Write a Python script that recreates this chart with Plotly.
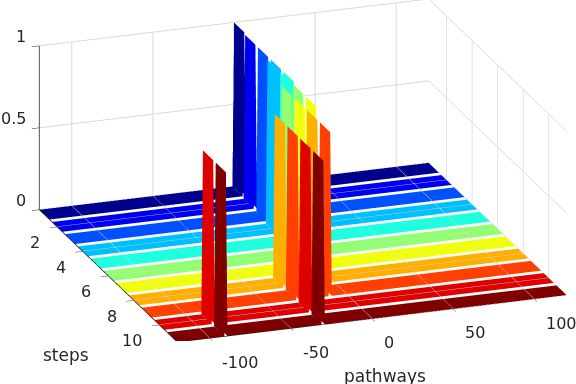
import numpy as np
import plotly.graph_objects as go

# pathway axis samples and the spike positions per step
pathways = list(range(-120, 121))
steps = [1, 2, 3, 4, 5, 6, 7, 8, 9, 10, 11]
spike_pathways = [
    [0],
    [-1],
    [-1],
    [-3, -1],
    [-3, -1],
    [-10, -3],
    [-10, -3],
    [-30, -10],
    [-30, -10],
    [-90, -30],
    [-90, -30],
]
ribbon_colors = [
    "#00008f", "#0000f0", "#0050ff", "#00bfff", "#1fffe0", "#90ff70",
    "#f0ff10", "#ffaf00", "#ff4000", "#df0000", "#800000",
]
ribbon_width = 0.8

x_ticks = [-100, -50, 0, 50, 100]
y_ticks = [2, 4, 6, 8, 10]
z_ticks = [0, 0.5, 1]
x_range = [-120, 120]
y_range = [11.4, 0.6]
z_range = [0, 1]

AXIS_GREY = "#d9d9d9"
TEXT = "#262626"
FONT = "DejaVu Sans"

fig = go.Figure()

for step, spikes, color in zip(steps, spike_pathways, ribbon_colors):
    heights = np.zeros(len(pathways))
    for p in spikes:
        heights[pathways.index(p)] = 1
    fig.add_trace(
        go.Surface(
            x=pathways,
            y=[step - ribbon_width / 2, step + ribbon_width / 2],
            z=np.vstack([heights, heights]),
            surfacecolor=np.zeros((2, len(pathways))),
            colorscale=[[0, color], [1, color]],
            showscale=False,
            lighting=dict(ambient=1, diffuse=0, specular=0, fresnel=0, roughness=1),
            hoverinfo="skip",
        )
    )

# the three dark axis lines along the box edges
fig.add_trace(
    go.Scatter3d(
        x=[x_range[0], x_range[0], x_range[0], x_range[1]],
        y=[y_range[1], y_range[1], y_range[0], y_range[0]],
        z=[z_range[1], z_range[0], z_range[0], z_range[0]],
        mode="lines",
        line=dict(color="#1a1a1a", width=1.5),
        hoverinfo="skip",
        showlegend=False,
    )
)

annotations = []
for v in x_ticks:
    annotations.append(
        dict(x=v, y=y_range[0], z=0, text=str(v), xanchor="left", xshift=10, yshift=-24)
    )
for v in y_ticks:
    annotations.append(
        dict(x=x_range[0], y=v, z=0, text=str(v), xanchor="right", xshift=-15, yshift=-16)
    )
for v in z_ticks:
    annotations.append(
        dict(x=x_range[0], y=y_range[1], z=v, text=str(v), xanchor="right", xshift=-11, yshift=9)
    )
for a in annotations:
    a["font"] = dict(family=FONT, size=16, color=TEXT)
annotations.append(
    dict(x=x_range[0], y=y_range[0], z=0, text="steps", xshift=-111, yshift=-13,
         font=dict(family=FONT, size=17, color=TEXT))
)
annotations.append(
    dict(x=0, y=y_range[0], z=0, text="pathways", xshift=13, yshift=-57,
         font=dict(family=FONT, size=17, color=TEXT))
)
for a in annotations:
    a["showarrow"] = False


def axis(rng, ticks):
    return dict(
        range=rng,
        tickvals=ticks,
        showticklabels=False,
        showbackground=False,
        showgrid=True,
        gridcolor=AXIS_GREY,
        gridwidth=2,
        zeroline=False,
        showline=False,
        ticks="outside",
        ticklen=8,
        tickcolor="#262626",
        showspikes=False,
        title=dict(text=""),
    )


fig.update_layout(
    width=576,
    height=384,
    margin=dict(l=0, r=0, t=0, b=0),
    paper_bgcolor="white",
    showlegend=False,
    scene=dict(
        domain=dict(x=[0.052, 1], y=[0.112, 1]),
        xaxis=axis(x_range, x_ticks),
        yaxis=axis(y_range, y_ticks),
        zaxis=axis(z_range, z_ticks),
        aspectmode="manual",
        aspectratio=dict(x=2.423, y=2.423, z=1.022),
        camera=dict(
            projection=dict(type="orthographic"),
            up=dict(x=0, y=0, z=1),
            center=dict(x=0, y=0, z=0),
            eye=dict(x=-0.9414, y=-2.6574, z=1.0185),
        ),
        annotations=annotations,
    ),
)

# default body margin would push the figure 8px in and clip it
fig.write_html(
    "out.html",
    config=dict(displayModeBar=False),
    post_script="document.body.style.margin = '0';",
)
